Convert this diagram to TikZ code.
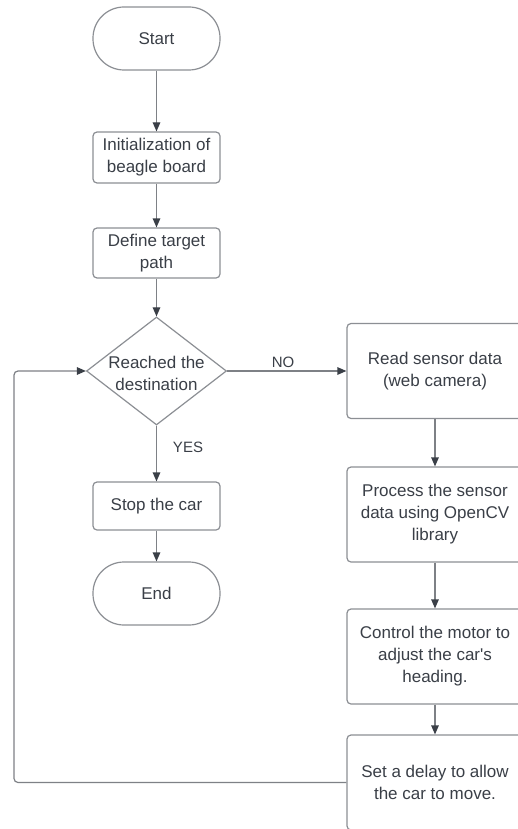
\documentclass[tikz,border=0pt]{standalone}
\usepackage{fontspec}
\setmainfont{Liberation Sans}
\usetikzlibrary{arrows.meta,shapes.geometric}

\definecolor{txt}{HTML}{3A3F47}
\definecolor{edge}{HTML}{8C8F94}
\definecolor{wire}{HTML}{7E8186}
\definecolor{tip}{HTML}{3A3F47}

\begin{document}
\begin{tikzpicture}[x=1pt,y=-1pt,
  base/.style={draw=edge, line width=1.2pt, text=txt, align=center,
    inner sep=0pt, font=\fontsize{17}{22}\selectfont},
  stepbox/.style={base, rectangle, rounded corners=4pt, minimum width=127pt},
  sidebox/.style={base, rectangle, rounded corners=4pt, minimum width=176pt, minimum height=95pt},
  term/.style={base, rectangle, rounded corners=31pt, minimum width=127pt, minimum height=63pt},
  decision/.style={base, diamond, minimum width=140pt, minimum height=108pt},
  lbl/.style={text=txt, align=center, inner sep=0pt, font=\fontsize{17}{22}\selectfont},
  tag/.style={text=txt, inner sep=0pt, font=\fontsize{15}{17}\selectfont},
  flow/.style={draw=wire, line width=1.2pt, -{Triangle[length=9pt,width=7.5pt,color=tip]}}]

\useasboundingbox (0,0) rectangle (518,829);
\fill[white] (0,0) rectangle (518,829);
\clip (0,0) rectangle (518,829);

% main column
\node[term] (start) at (156.5,38.5) {Start};
\node[stepbox, minimum height=51pt] (init) at (156.5,157.5) {Initialization of\\beagle board};
\node[stepbox, minimum height=50pt] (target) at (156.5,253) {Define target\\path};
\node[decision] (dec) at (156.5,371) {};
\node[lbl] (dectext) at (156.5,373) {Reached the\\destination};
\node[stepbox, minimum height=48pt] (stop) at (156.5,506) {Stop the car};
\node[term] (end) at (156.5,593.5) {End};

% processing column
\node[sidebox] (read) at (435,371) {Read sensor data\\(web camera)};
\node[sidebox] (proc) at (435,514.5) {Process the sensor\\data using OpenCV\\library};
\node[sidebox] (ctrl) at (435,656.5) {Control the motor to\\adjust the car\textquotesingle s\\heading.};
\node[sidebox] (delay) at (435,782.5) {Set a delay to allow\\the car to move.};

% connectors
\draw[flow] (start) -- (init);
\draw[flow] (init) -- (target);
\draw[flow] (target) -- (dec);
\draw[flow] (dec) -- (stop);
\draw[flow] (stop) -- (end);
\draw[flow] (dec.east) -- (read.west);
\draw[flow] (read) -- (proc);
\draw[flow] (proc) -- (ctrl);
\draw[flow] (ctrl) -- (delay);

\coordinate (loopbot) at (14,782.5);
\coordinate (looptop) at (14,371);
\draw[flow, rounded corners=4pt] (delay.west) -- (loopbot) -- (looptop) -- (dec.west);

% branch labels
\node[tag] (no) at (283,362) {NO};
\node[tag] (yes) at (188,447) {YES};
\end{tikzpicture}
\end{document}
